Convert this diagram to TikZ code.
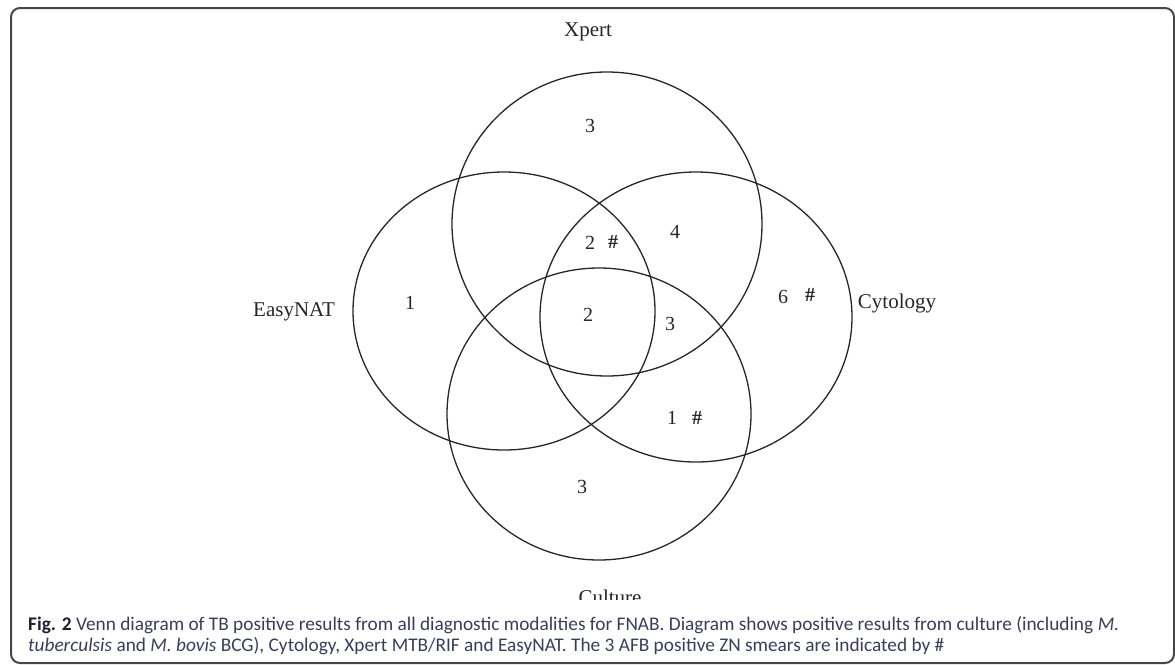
\documentclass[tikz,border=0pt]{standalone}
\usepackage{fontspec}
\setmainfont{Liberation Serif}
\newfontfamily\capfont{Carlito}
\definecolor{capcol}{RGB}{55,62,90}
\definecolor{figcol}{RGB}{30,32,45}
\definecolor{framecol}{RGB}{70,70,70}
\begin{document}
\begin{tikzpicture}[x=1pt,y=-1pt,
  venn/.style={draw=black!85,line width=1.3pt},
  lbl/.style={inner sep=0pt,font=\fontsize{21}{24}\selectfont,text=black!85},
  num/.style={inner sep=0pt,font=\fontsize{20}{24}\selectfont,text=black!85},
  hash/.style={inner sep=0pt,font=\fontsize{20}{24}\selectfont\bfseries,text=black!85},
  captext/.style={inner sep=0pt,anchor=base west,font=\capfont\fontsize{19.3}{21}\selectfont,text=capcol}]
\useasboundingbox (0,0) rectangle (1175,664);
\begin{scope}
\clip (0,0) rectangle (1175,664);
\draw[framecol,line width=2pt,rounded corners=9pt] (11,8) rectangle (1174,663);
\end{scope}
% ellipses
\draw[venn] (607,224) ellipse [x radius=155, y radius=152];
\draw[venn] (504,311) ellipse [x radius=151, y radius=139];
\draw[venn] (696,317) ellipse [x radius=156, y radius=145];
\draw[venn] (599,414) ellipse [x radius=152, y radius=146];
% set labels
\node[lbl] (xpert) at (588,32) {Xpert};
\node[lbl] (easynat) at (294,312) {EasyNAT};
\node[lbl] (cyto) at (897,303) {Cytology};
\begin{scope}
\clip (0,0) rectangle (1175,599);
\node[lbl] (culture) at (610,597) {Culture};
\end{scope}
% counts
\node[num] (n1) at (590,126) {3};
\node[num] (n2) at (410,303) {1};
\node[num] (n3) at (590,243) {2};
\node[hash] (h3) at (613,242) {\#};
\node[num] (n4) at (675,232) {4};
\node[num] (n5) at (588,315) {2};
\node[num] (n6) at (670,324) {3};
\node[num] (n7) at (783,297) {6};
\node[hash] (h7) at (810,295) {\#};
\node[num] (n8) at (672,418) {1};
\node[hash] (h8) at (697,418) {\#};
\node[num] (n9) at (582,487) {3};
% caption
\node[captext] (c1) at (28,630) {\textcolor{figcol}{\textbf{Fig. 2}} Venn diagram of TB positive results from all diagnostic modalities for FNAB. Diagram shows positive results from culture (including \textit{M.}};
\node[captext] (c2) at (28,651) {\textit{tuberculsis} and \textit{M. bovis} BCG), Cytology, Xpert MTB/RIF and EasyNAT. The 3 AFB positive ZN smears are indicated by \#};
\end{tikzpicture}
\end{document}
